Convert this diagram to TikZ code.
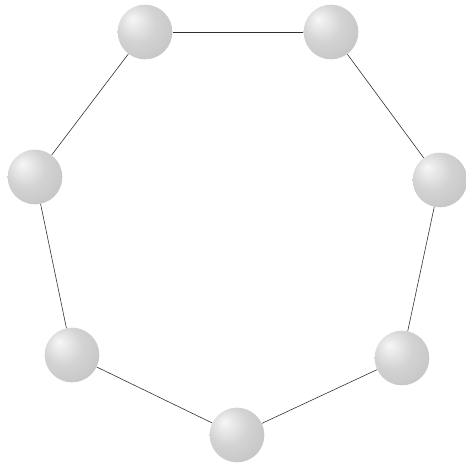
\documentclass[tikz,border=0pt]{standalone}
\usetikzlibrary{shadings}
\definecolor{cball}{HTML}{C8C8C8}
\definecolor{clink}{HTML}{303030}
\pgfdeclareradialshading{atomshade}{\pgfpoint{-12bp}{12bp}}{%
  color(0bp)=(white!85!cball); color(18bp)=(cball!80!white);
  color(40bp)=(cball!90!gray); color(62bp)=(cball!60!gray)}
\tikzset{
  every picture/.style={x=0.03cm, y=-0.03cm},
  atom/.style={circle, minimum size=1.64cm, inner sep=0pt, shading=atomshade},
  link/.style={draw=clink, line width=0.5pt},
}

\begin{document}
\begin{tikzpicture}
  \useasboundingbox (0,0) rectangle (466,466);
  % the seven atoms of the ring
  \node[atom] (a1) at (145,32) {};
  \node[atom] (a2) at (331,32) {};
  \node[atom] (a3) at (440,180) {};
  \node[atom] (a4) at (402,358) {};
  \node[atom] (a5) at (237,435) {};
  \node[atom] (a6) at (72,355) {};
  \node[atom] (a7) at (35,177) {};
  % bonds
  \foreach \p/\q in {a1/a2, a2/a3, a3/a4, a4/a5, a5/a6, a6/a7, a7/a1} {
    \draw[link] (\p) -- (\q);
  }
\end{tikzpicture}
\end{document}
